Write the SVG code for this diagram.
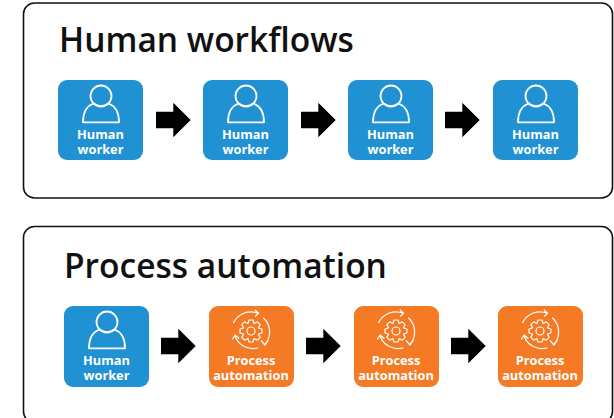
<svg xmlns="http://www.w3.org/2000/svg" width="614" height="418" viewBox="0 0 614 418">
<style>
.card{fill:#fff;stroke:#111;stroke-width:1.6}
.title{font-family:"Open Sans","Liberation Sans",sans-serif;font-weight:600;font-size:33.500px;fill:#111}
.lbl{font-family:"Open Sans","Liberation Sans",sans-serif;font-weight:700;font-size:12.800px;fill:#fff;text-anchor:middle}
.blue{fill:#2092d3}
.orange{fill:#f57a26}
.ic{fill:none;stroke:#fff;stroke-width:1.800;stroke-linejoin:round}
.ic2{fill:none;stroke:#fff;stroke-width:1.200;stroke-linejoin:round}
</style>
<defs>
<g id="person"><circle cx="43" cy="16" r="10.500" class="ic"/><path d="M25 42.300C25 31 30 25.500 35.500 23.500C40 27 46 27 50.500 23.500C56 25.500 61 31 61 42.300z" class="ic"/></g>
<g id="gear">
<polygon transform="translate(42 25)" class="ic2" points="-3,-7.600 -2,-11 2,-11 3,-7.600 3.250,-7.500 6.360,-9.190 9.190,-6.360 7.500,-3.250 7.600,-3 11,-2 11,2 7.600,3 7.500,3.250 9.190,6.360 6.360,9.190 3.250,7.500 3,7.600 2,11 -2,11 -3,7.600 -3.250,7.500 -6.360,9.190 -9.190,6.360 -7.500,3.250 -7.600,3 -11,2 -11,-2 -7.600,-3 -7.500,-3.250 -9.190,-6.360 -6.360,-9.190 -3.250,-7.500"/>
<circle cx="42" cy="25" r="4" class="ic2"/>
<path d="M24.300 17.300A19.500 19.500 0 0 1 49.300 7.300M46 4l3.500 3.300-3.500 3.300" class="ic2"/>
<path d="M54.300 11.700A19 19 0 0 1 56 38.300M52 34.500l4 4.500 3.500-5" class="ic2"/>
<path d="M49.300 41.700A19 19 0 0 1 26 30M23.300 33.500l2.700-4.500 4.300 3.500" class="ic2"/>
</g>
<path id="arr" d="M0 8.700h17.300v-9l17.400 17.300-17.400 17.300v-9H0z" fill="#000"/>
</defs>
<g id="card-human"><rect class="card" x="23.500" y="3" width="589" height="195" rx="11"/><text class="title" x="59" y="52">Human workflows</text></g>
<g id="card-process"><rect class="card" x="23.500" y="226.500" width="589" height="196" rx="11"/><text class="title" x="64" y="278">Process automation</text></g>
<g id="connectors">
<use href="#arr" x="156" y="103"/><use href="#arr" x="301" y="103"/><use href="#arr" x="445" y="103"/>
<use href="#arr" x="161" y="329"/><use href="#arr" x="306" y="329"/><use href="#arr" x="451" y="329"/>
</g>
<g id="h1" transform="translate(58 80)"><rect class="blue" width="85" height="80" rx="9"/><use href="#person"/><text class="lbl"><tspan x="42.500" y="59">Human</tspan><tspan x="42.500" y="74">worker</tspan></text></g>
<g id="h2" transform="translate(203 80)"><rect class="blue" width="85" height="80" rx="9"/><use href="#person"/><text class="lbl"><tspan x="42.500" y="59">Human</tspan><tspan x="42.500" y="74">worker</tspan></text></g>
<g id="h3" transform="translate(348 80)"><rect class="blue" width="85" height="80" rx="9"/><use href="#person"/><text class="lbl"><tspan x="42.500" y="59">Human</tspan><tspan x="42.500" y="74">worker</tspan></text></g>
<g id="h4" transform="translate(493 80)"><rect class="blue" width="85" height="80" rx="9"/><use href="#person"/><text class="lbl"><tspan x="42.500" y="59">Human</tspan><tspan x="42.500" y="74">worker</tspan></text></g>
<g id="p1" transform="translate(64 306)"><rect class="blue" width="85" height="81" rx="9"/><use href="#person"/><text class="lbl"><tspan x="42.500" y="59">Human</tspan><tspan x="42.500" y="74">worker</tspan></text></g>
<g id="p2" transform="translate(209 306)"><rect class="orange" width="85" height="81" rx="9"/><use href="#gear"/><text class="lbl"><tspan x="42" y="59">Process</tspan><tspan x="42" y="74">automation</tspan></text></g>
<g id="p3" transform="translate(354 306)"><rect class="orange" width="85" height="81" rx="9"/><use href="#gear"/><text class="lbl"><tspan x="42" y="59">Process</tspan><tspan x="42" y="74">automation</tspan></text></g>
<g id="p4" transform="translate(498 306)"><rect class="orange" width="85" height="81" rx="9"/><use href="#gear"/><text class="lbl"><tspan x="42" y="59">Process</tspan><tspan x="42" y="74">automation</tspan></text></g>
</svg>
